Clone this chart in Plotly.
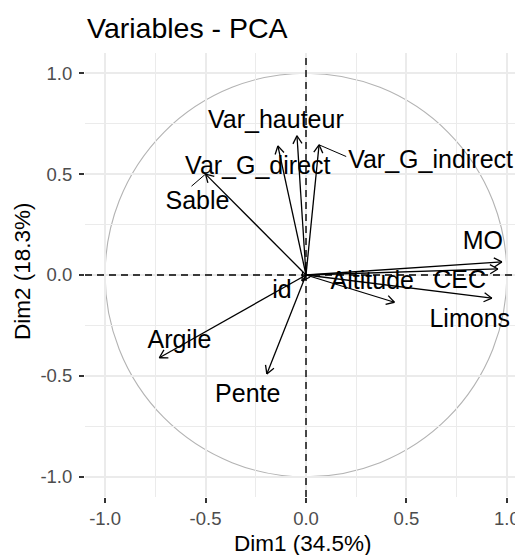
import numpy as np
import plotly.graph_objects as go

# ---- data (coordinates of variables on Dim1 / Dim2) ----
variables = ["MO", "CEC", "Limons", "Altitude", "Var_hauteur", "Var_G_direct",
             "Var_G_indirect", "Sable", "Argile", "Pente", "id"]
dim1 = [0.975, 0.955, 0.925, 0.44, -0.045, -0.14, 0.065, -0.50, -0.73, -0.195, -0.02]
dim2 = [0.065, 0.03, -0.115, -0.135, 0.69, 0.64, 0.645, 0.50, -0.41, -0.49, -0.03]

# repelled label positions (layout)
label_x = [0.88, 0.765, 0.815, 0.33, -0.15, -0.24, 0.62, -0.54, -0.63, -0.29, -0.12]
label_y = [0.16, -0.035, -0.225, -0.04, 0.76, 0.53, 0.56, 0.36, -0.33, -0.60, -0.085]

# leader segments drawn by the repel algorithm: (variable, end x, end y)
leaders = [("Sable", -0.57, 0.44), ("Var_G_indirect", 0.20, 0.587)]

x_title = "Dim1 (34.5%)"
y_title = "Dim2 (18.3%)"
title = "Variables - PCA"
tickvals = [-1.0, -0.5, 0.0, 0.5, 1.0]
ticktext = ["-1.0", "-0.5", "0.0", "0.5", "1.0"]

FONT = "Liberation Sans, Arial, sans-serif"

# ---- build arrow geometry from data ----
xs, ys = [], []
head_len = 0.045
ang = np.deg2rad(30)
for x, y in zip(dim1, dim2):
    xs += [0, x, None]
    ys += [0, y, None]
    n = np.hypot(x, y)
    dx, dy = x / n, y / n
    for a in (ang, -ang):
        rx = dx * np.cos(a) - dy * np.sin(a)
        ry = dx * np.sin(a) + dy * np.cos(a)
        xs += [x - head_len * rx, x, None]
        ys += [y - head_len * ry, y, None]

lx, ly = [], []
for name, ex, ey in leaders:
    i = variables.index(name)
    lx += [dim1[i], ex, None]
    ly += [dim2[i], ey, None]

fig = go.Figure()
fig.add_trace(go.Scatter(x=xs, y=ys, mode="lines",
                         line=dict(color="black", width=1.3),
                         hoverinfo="skip", showlegend=False))
fig.add_trace(go.Scatter(x=lx, y=ly, mode="lines",
                         line=dict(color="black", width=1.0),
                         hoverinfo="skip", showlegend=False))
fig.add_trace(go.Scatter(x=label_x, y=label_y, mode="text", text=variables,
                         textposition="middle center",
                         textfont=dict(family=FONT, size=25, color="black"),
                         hoverinfo="skip", showlegend=False))

# correlation circle and dashed reference lines
fig.add_shape(type="circle", xref="x", yref="y", x0=-1, y0=-1, x1=1, y1=1,
              line=dict(color="#B3B3B3", width=1.1), layer="below")
fig.add_shape(type="line", xref="x", yref="y domain", x0=0, x1=0, y0=0, y1=1,
              line=dict(color="black", width=1.4, dash="7px,5px"))
fig.add_shape(type="line", xref="x domain", yref="y", x0=0, x1=1, y0=0, y1=0,
              line=dict(color="black", width=1.4, dash="7px,5px"))

axis_common = dict(
    tickvals=tickvals, ticktext=ticktext,
    showgrid=True, gridcolor="#EBEBEB", gridwidth=1.7,
    zeroline=False, showline=False,
    ticks="outside", ticklen=5, tickwidth=1.6, tickcolor="#333333",
    tickfont=dict(family=FONT, size=18.5, color="#4D4D4D"),
    minor=dict(dtick=0.25, tick0=0, showgrid=True, gridcolor="#EBEBEB",
               gridwidth=1.0, ticks=""),
)
fig.update_xaxes(range=[-1.1, 1.08], **axis_common)
fig.update_yaxes(range=[-1.1, 1.1], ticklabelstandoff=3, **axis_common)

fig.add_annotation(text=title, xref="paper", yref="paper", x=0, y=1 + 25 / 444,
                   xanchor="left", yanchor="middle", showarrow=False,
                   font=dict(family=FONT, size=28.5, color="black"))
fig.add_annotation(text=x_title, xref="paper", yref="paper", x=0.498, y=-46 / 444,
                   xanchor="center", yanchor="middle", showarrow=False,
                   font=dict(family=FONT, size=22.5, color="black"))
fig.add_annotation(text=y_title, xref="paper", yref="paper", x=-63 / 438, y=0.509,
                   xanchor="center", yanchor="middle", showarrow=False, textangle=-90,
                   font=dict(family=FONT, size=22.5, color="black"))

# page shows the figure 8px in from the top-left corner
fig.update_layout(width=515, height=547,
                  margin=dict(l=77, r=0, t=45, b=58),
                  plot_bgcolor="white", paper_bgcolor="white",
                  showlegend=False)

fig.write_html("out.html")
